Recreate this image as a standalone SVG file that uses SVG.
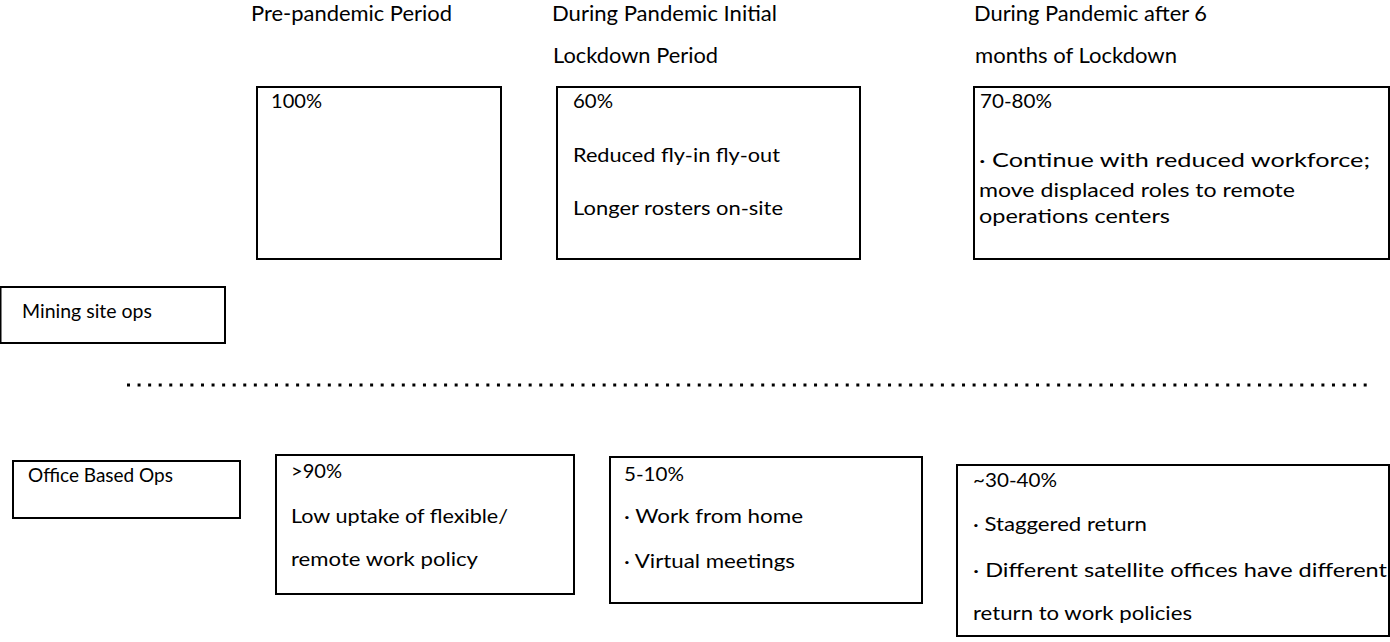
<svg xmlns="http://www.w3.org/2000/svg" width="1390" height="642" viewBox="0 0 1390 642">
<style>
  .bg { fill: #ffffff; }
  .box { fill: #ffffff; stroke: #000000; stroke-width: 2; }
  .h { font-family: Lato, "Open Sans", "Liberation Sans", sans-serif; font-size: 22px; fill: #000000; }
  .t { font-family: Lato, "Open Sans", "Liberation Sans", sans-serif; font-size: 20px; fill: #000000; }
  .dots { stroke: #000000; stroke-width: 3; stroke-dasharray: 3 7.57; fill: none; }
</style>
<rect class="bg" x="0" y="0" width="1390" height="642"/>

<g id="headers">
  <text class="h" x="251" y="21" textLength="201" lengthAdjust="spacingAndGlyphs">Pre-pandemic Period</text>
  <text class="h" x="552" y="21" textLength="225" lengthAdjust="spacingAndGlyphs">During Pandemic Initial</text>
  <text class="h" x="553" y="63" textLength="165" lengthAdjust="spacingAndGlyphs">Lockdown Period</text>
  <text class="h" x="974" y="21" textLength="233" lengthAdjust="spacingAndGlyphs">During Pandemic after 6</text>
  <text class="h" x="975" y="63" textLength="202" lengthAdjust="spacingAndGlyphs">months of Lockdown</text>
</g>

<g id="mining-pre">
  <rect class="box" x="257" y="87" width="244" height="172"/>
  <text class="t" x="271" y="108" textLength="51" lengthAdjust="spacingAndGlyphs">100%</text>
</g>

<g id="mining-initial">
  <rect class="box" x="557" y="87" width="303" height="172"/>
  <text class="t" x="573" y="108" textLength="40" lengthAdjust="spacingAndGlyphs">60%</text>
  <text class="t" x="573" y="162" textLength="207" lengthAdjust="spacingAndGlyphs">Reduced fly-in fly-out</text>
  <text class="t" x="573" y="215" textLength="210" lengthAdjust="spacingAndGlyphs">Longer rosters on-site</text>
</g>

<g id="mining-6months">
  <rect class="box" x="974" y="87" width="415" height="172"/>
  <text class="t" x="980" y="108" textLength="72" lengthAdjust="spacingAndGlyphs">70-80%</text>
  <text class="t" x="979" y="167" textLength="391" lengthAdjust="spacingAndGlyphs">· Continue with reduced workforce;</text>
  <text class="t" x="979" y="197" textLength="316" lengthAdjust="spacingAndGlyphs">move displaced roles to remote</text>
  <text class="t" x="979" y="223" textLength="191" lengthAdjust="spacingAndGlyphs">operations centers</text>
</g>

<g id="mining-site-ops">
  <rect class="box" x="0.5" y="287" width="224.5" height="56"/>
  <text class="t" x="22" y="318" textLength="130" lengthAdjust="spacingAndGlyphs">Mining site ops</text>
</g>

<g id="divider">
  <line class="dots" x1="127" y1="385" x2="1368" y2="385"/>
</g>

<g id="office-based-ops">
  <rect class="box" x="13" y="461" width="227" height="57"/>
  <text class="t" x="28" y="482" textLength="145" lengthAdjust="spacingAndGlyphs">Office Based Ops</text>
</g>

<g id="office-pre">
  <rect class="box" x="276" y="455" width="298" height="139"/>
  <text class="t" x="291" y="478" textLength="51" lengthAdjust="spacingAndGlyphs">&gt;90%</text>
  <text class="t" x="291" y="523" textLength="217" lengthAdjust="spacingAndGlyphs">Low uptake of flexible/</text>
  <text class="t" x="291" y="566" textLength="187" lengthAdjust="spacingAndGlyphs">remote work policy</text>
</g>

<g id="office-initial">
  <rect class="box" x="610" y="457" width="312" height="146"/>
  <text class="t" x="624" y="481" textLength="60" lengthAdjust="spacingAndGlyphs">5-10%</text>
  <text class="t" x="624" y="523" textLength="179" lengthAdjust="spacingAndGlyphs">· Work from home</text>
  <text class="t" x="624" y="568" textLength="171" lengthAdjust="spacingAndGlyphs">· Virtual meetings</text>
</g>

<g id="office-6months">
  <rect class="box" x="957" y="465" width="432" height="171"/>
  <text class="t" x="973" y="487" textLength="84" lengthAdjust="spacingAndGlyphs">~30-40%</text>
  <text class="t" x="973" y="531" textLength="174" lengthAdjust="spacingAndGlyphs">· Staggered return</text>
  <text class="t" x="973" y="577" textLength="414" lengthAdjust="spacingAndGlyphs">· Different satellite offices have different</text>
  <text class="t" x="973" y="620" textLength="219" lengthAdjust="spacingAndGlyphs">return to work policies</text>
</g>
</svg>
